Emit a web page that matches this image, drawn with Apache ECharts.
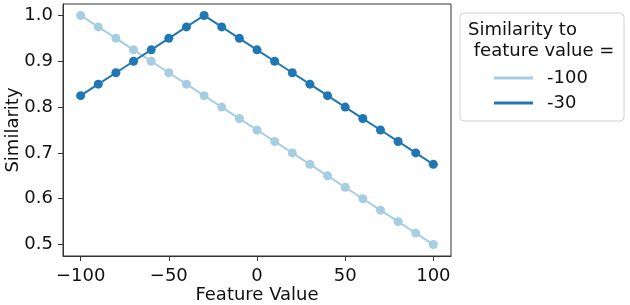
<!DOCTYPE html>
<html>
<head>
<meta charset="utf-8">
<script src="https://cdn.jsdelivr.net/npm/echarts@6/dist/echarts.min.js"></script>
<style>
  html, body { margin: 0; padding: 0; background: #fff; }
  #chart { width: 630px; height: 305px; }
</style>
</head>
<body>
<div id="chart"></div>
<script>
const featureValues = [-100, -90, -80, -70, -60, -50, -40, -30, -20, -10, 0, 10, 20, 30, 40, 50, 60, 70, 80, 90, 100];
const simTo100 = [1.0, 0.975, 0.95, 0.925, 0.9, 0.875, 0.85, 0.825, 0.8, 0.775, 0.75, 0.725, 0.7, 0.675, 0.65, 0.625, 0.6, 0.575, 0.55, 0.525, 0.5];
const simTo30 = [0.825, 0.85, 0.875, 0.9, 0.925, 0.95, 0.975, 1.0, 0.975, 0.95, 0.925, 0.9, 0.875, 0.85, 0.825, 0.8, 0.775, 0.75, 0.725, 0.7, 0.675];
const xTicks = [-100, -50, 0, 50, 100];
const yTicks = [0.5, 0.6, 0.7, 0.8, 0.9, 1.0];
const seriesNames = ['-100', '-30'];

const font = 'DejaVu Sans';
const chart = echarts.init(document.getElementById('chart'));

const pairs = vals => featureValues.map((x, i) => [x, vals[i]]);

const option = {
  animation: false,
  textStyle: { fontFamily: font },
  color: ['#a6cee3', '#1f78b4'],
  grid: {
    left: 63, top: 4, right: 179, bottom: 49,
    outerBoundsMode: 'none',
    containLabel: false,
    show: true, borderColor: '#333', borderWidth: 1
  },
  title: {
    text: 'Similarity to\n feature value =',
    left: 468, top: 20,
    padding: 0,
    textStyle: { fontFamily: font, fontSize: 18, fontWeight: 'normal', color: '#111', lineHeight: 21 }
  },
  legend: {
    data: seriesNames,
    orient: 'vertical',
    left: 494, top: 69,
    padding: 0,
    itemGap: 7,
    itemWidth: 39, itemHeight: 3,
    icon: 'rect',
    textStyle: { fontFamily: font, fontSize: 18, color: '#111', padding: [0, 0, 0, 9] }
  },
  graphic: [{
    type: 'rect',
    shape: { x: 460, y: 13, width: 164, height: 108, r: 4 },
    style: { fill: '#fff', stroke: '#d0d0d0', lineWidth: 1 },
    z: -1
  }],
  xAxis: {
    type: 'value',
    min: -110, max: 110,
    name: 'Feature Value',
    nameLocation: 'middle',
    nameGap: 30,
    nameMoveOverlap: false,
    nameTextStyle: { fontFamily: font, fontSize: 18, color: '#111' },
    splitLine: { show: false },
    axisLine: { show: true, onZero: false, lineStyle: { color: '#333' } },
    axisTick: { show: true, length: 5, lineStyle: { color: '#333' }, customValues: xTicks },
    axisLabel: {
      fontFamily: font, fontSize: 18, color: '#111', margin: 11,
      customValues: xTicks,
      formatter: v => (v < 0 ? '\u2212' + Math.abs(v) : String(v))
    }
  },
  yAxis: {
    type: 'value',
    min: 0.475, max: 1.025,
    name: 'Similarity',
    nameLocation: 'middle',
    nameGap: 41,
    nameMoveOverlap: false,
    nameTextStyle: { fontFamily: font, fontSize: 18, color: '#111' },
    splitLine: { show: false },
    axisLine: { show: true, onZero: false, lineStyle: { color: '#333' } },
    axisTick: { show: true, length: 5, lineStyle: { color: '#333' }, customValues: yTicks },
    axisLabel: {
      fontFamily: font, fontSize: 18, color: '#111', margin: 10,
      customValues: yTicks,
      formatter: v => v.toFixed(1)
    }
  },
  series: [
    {
      name: seriesNames[0],
      type: 'line',
      data: pairs(simTo100),
      symbol: 'circle', symbolSize: 9,
      lineStyle: { width: 2 },
      itemStyle: { color: '#a6cee3' }
    },
    {
      name: seriesNames[1],
      type: 'line',
      data: pairs(simTo30),
      symbol: 'circle', symbolSize: 9,
      lineStyle: { width: 2 },
      itemStyle: { color: '#1f78b4' }
    }
  ]
};

chart.setOption(option);
window.addEventListener('resize', () => chart.resize());
</script>
</body>
</html>
